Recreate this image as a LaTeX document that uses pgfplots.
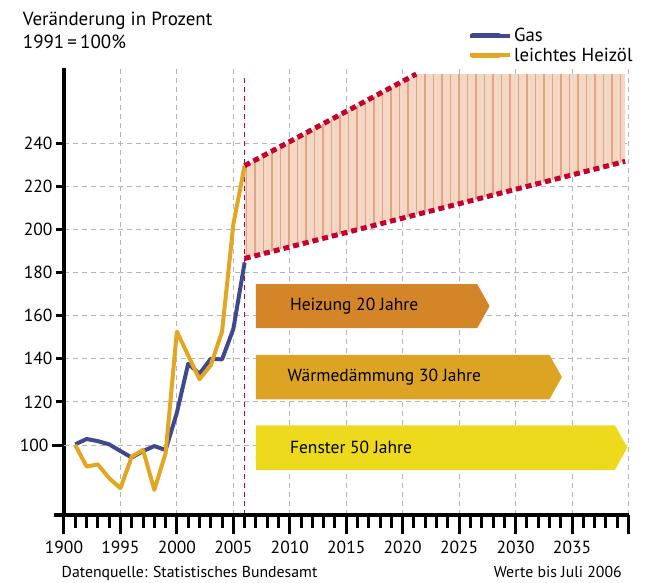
\documentclass[border=0pt]{standalone}
\usepackage{pgfplots}
\pgfplotsset{compat=1.18}
\usepackage{pgfplotstable}
\usepackage{fontspec}
\setmainfont{PT Sans}
\usetikzlibrary{patterns.meta}

\definecolor{gasblue}{HTML}{3F4A8E}
\definecolor{oilorange}{HTML}{E2A622}
\definecolor{bandred}{HTML}{C4002F}
\definecolor{bandfill}{HTML}{F4D6C4}
\definecolor{bandstripe}{HTML}{E3A482}
\definecolor{heizung}{HTML}{D48527}
\definecolor{waerme}{HTML}{DDA423}
\definecolor{fenster}{HTML}{EEDA1C}
\definecolor{gridgray}{HTML}{B4B4B4}

\pgfplotstableread{
year gas oil
1991 100.3 100
1992 102.8 90
1993 101.8 91
1994 100.3 84.6
1995 97.2 80
1996 94.2 94.6
1997 97.2 97.7
1998 99.5 79.2
1999 97.7 96.2
2000 115 152.6
2001 137.7 141.5
2002 133 130.5
2003 140 137
2004 139.7 152.6
2005 153.8 202.3
2006 184.6 229.5
}\pricedata

\newcommand{\myfont}{\fontsize{17.5}{21}\selectfont}
\newcommand{\titlefont}{\fontsize{19}{23}\selectfont}
\newcommand{\legfont}{\fontsize{18.8}{22}\selectfont}
\newcommand{\srcfont}{\fontsize{15.8}{19}\selectfont}

\begin{document}
\begin{tikzpicture}[font=\myfont]
\useasboundingbox (-64pt,-67pt) rectangle (587pt,515pt);
\begin{axis}[
  at={(0pt,0pt)}, anchor=south west,
  scale only axis, width=564.5pt, height=447pt,
  xmin=1990, xmax=2040, ymin=67.55, ymax=274.8,
  axis x line*=bottom, axis y line*=left,
  x axis line style={line width=3.5pt, shorten <=-10pt},
  y axis line style={line width=3.5pt},
  xtick={1995,2000,...,2040}, xticklabels={},
  ytick={120,140,...,240},
  extra y ticks={100},
  extra y tick style={grid=major, major tick length=12pt},
  major tick length=8pt, tick align=outside,
  tick style={line width=3pt, black},
  grid=major,
  major grid style={gridgray, line width=1pt, dash pattern=on 5pt off 4pt},
  tick label style={font=\myfont},
  /pgf/number format/assume math mode=true,
  legend style={at={(0.7156,1.094)}, anchor=north west, draw=none, fill=none,
    font=\legfont, row sep=1pt, inner sep=0pt, cells={anchor=west}},
  legend image code/.code={\draw[#1, line width=5pt, line cap=round] (2.5pt,0pt) -- (28.5pt,0pt); \path (0pt,0pt) -- (40pt,0pt);},
  clip=true,
]
% band
\addplot[fill=bandfill, draw=none, forget plot] coordinates {(2006,186.5) (2039.7,231.5) (2039.7,272) (2021.2,272) (2006,229.5)} -- cycle;
\addplot[draw=none, pattern={Lines[angle=90,distance=8.5pt,line width=1.3pt]}, pattern color=bandstripe, forget plot] coordinates {(2006,186.5) (2039.7,231.5) (2039.7,272) (2021.2,272) (2006,229.5)} -- cycle;
% red vertical marker
\addplot[bandred, line width=1pt, dash pattern=on 5pt off 4pt, forget plot] coordinates {(2006,67.55) (2006,272)};
% data
\addplot[gasblue, line width=4pt, line join=round] table[x=year, y=gas] {\pricedata};
\addlegendentry{Gas}
\addplot[oilorange, line width=4pt, line join=round] table[x=year, y=oil] {\pricedata};
\addlegendentry{leichtes Heizöl}
% band bounds
\addplot[bandred, line width=5pt, dash pattern=on 6pt off 4pt, forget plot] coordinates {(2006,186.5) (2039.7,231.5)};
\addplot[bandred, line width=5pt, dash pattern=on 6pt off 4pt, forget plot] coordinates {(2006,229.5) (2021.2,272)};
% arrows
\addplot[fill=heizung, draw=none, forget plot] coordinates {(2007,154.2) (2026.6,154.2) (2027.7,164.4) (2026.6,174.6) (2007,174.6)} -- cycle;
\addplot[fill=waerme, draw=none, forget plot] coordinates {(2007,121.2) (2033.0,121.2) (2034.1,131.5) (2033.0,141.8) (2007,141.8)} -- cycle;
\addplot[fill=fenster, draw=none, forget plot] coordinates {(2007,88.5) (2038.8,88.5) (2039.9,98.8) (2038.8,109.1) (2007,109.1)} -- cycle;
\node[anchor=west, inner sep=0pt] at (axis cs:2010,164.4) {Heizung 20 Jahre};
\node[anchor=west, inner sep=0pt] at (axis cs:2009.8,131.5) {Wärmedämmung 30 Jahre};
\node[anchor=west, inner sep=0pt] at (axis cs:2010,98.8) {Fenster 50 Jahre};
\end{axis}
\begin{axis}[
  at={(0pt,0pt)}, anchor=south west,
  scale only axis, width=564.5pt, height=447pt,
  xmin=1990, xmax=2040, ymin=67.55, ymax=274.8,
  axis x line*=bottom, axis y line=none,
  x axis line style={line width=3.5pt, shorten <=-10pt},
  xtick={1990,1995,...,2040},
  xticklabels={1900,1995,2000,2005,2010,2015,2020,2025,2030,2035,{}},
  minor x tick num=4,
  major tick length=19pt, minor tick length=13pt, tick align=outside,
  tick style={line width=3pt, black},
  tick label style={font=\myfont},
  xticklabel style={yshift=-4pt},
]
\end{axis}
\node[anchor=base west, inner sep=0pt, font=\titlefont] at (-41.3pt,489pt) {Veränderung in Prozent};
\node[anchor=base west, inner sep=0pt, font=\titlefont] at (-41.3pt,466.7pt) {1991\,=\,100\%};
\node[anchor=base west, inner sep=0pt, font=\srcfont] at (-2.5pt,-62.5pt) {Datenquelle: Statistisches Bundesamt};
\node[anchor=base east, inner sep=0pt, font=\srcfont] at (558pt,-62.5pt) {Werte bis Juli 2006};
\end{tikzpicture}
\end{document}
